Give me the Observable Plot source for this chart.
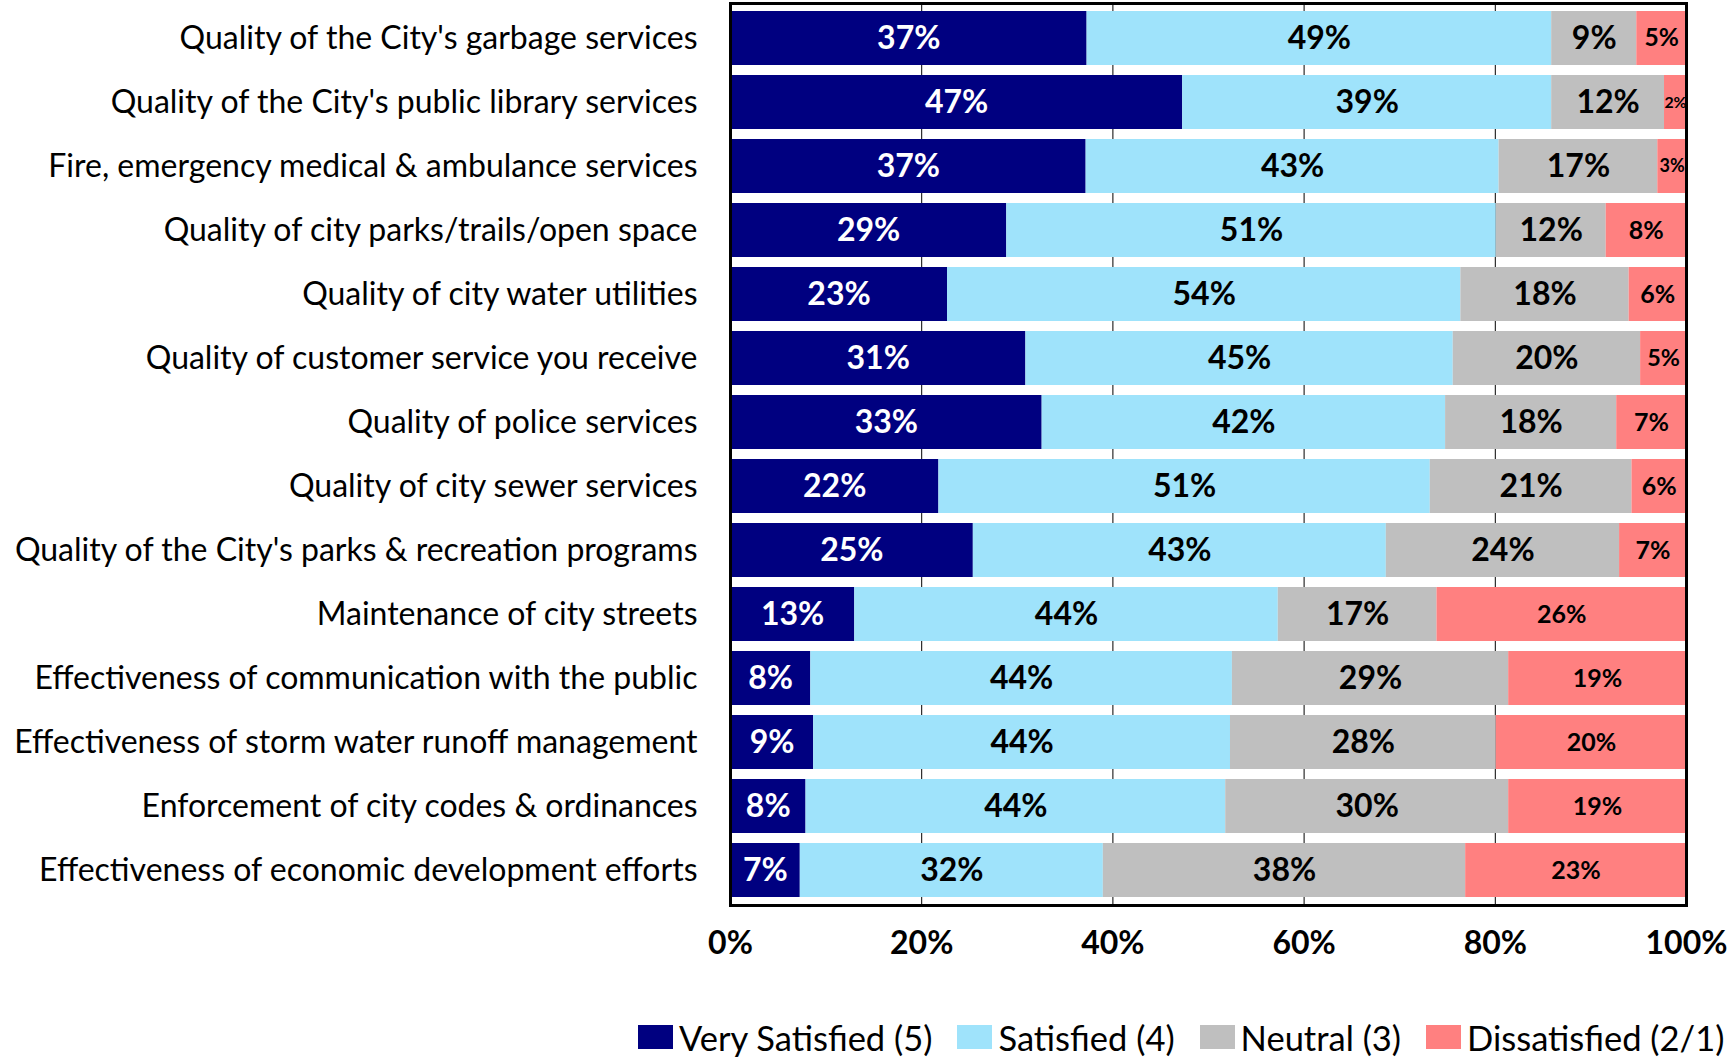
<!DOCTYPE html>
<html>
<head>
<meta charset="utf-8">
<script src="https://cdn.jsdelivr.net/npm/d3@7"></script>
<script src="https://cdn.jsdelivr.net/npm/@observablehq/plot@0.6"></script>
<style>
  html, body { margin: 0; padding: 0; background: #fff; }
  body { width: 1730px; height: 1057px; overflow: hidden; font-family: Lato, sans-serif; }
  #legend { display: flex; align-items: center; padding-left: 638px; height: 48px; margin-top: 23px; font-size: 34.5px; color: #000; white-space: nowrap; }
  .item { display: flex; align-items: center; margin-right: 25px; }
  .sw { width: 35px; height: 24px; margin-right: 6px; flex: none; }
</style>
</head>
<body>
<div id="chart"></div>
<div id="legend"></div>
<script>
const categories = [
  "Quality of the City's garbage services",
  "Quality of the City's public library services",
  "Fire, emergency medical & ambulance services",
  "Quality of city parks/trails/open space",
  "Quality of city water utilities",
  "Quality of customer service you receive",
  "Quality of police services",
  "Quality of city sewer services",
  "Quality of the City's parks & recreation programs",
  "Maintenance of city streets",
  "Effectiveness of communication with the public",
  "Effectiveness of storm water runoff management",
  "Enforcement of city codes & ordinances",
  "Effectiveness of economic development efforts"
];
const seriesNames = ["Very Satisfied (5)", "Satisfied (4)", "Neutral (3)", "Dissatisfied (2/1)"];
const verySatisfied = [37.3, 47.3, 37.2, 28.9, 22.7, 30.9, 32.6, 21.8, 25.4, 13.0, 8.4, 8.7, 7.9, 7.3];
const satisfied     = [48.6, 38.6, 43.2, 51.2, 53.7, 44.7, 42.2, 51.4, 43.2, 44.3, 44.1, 43.6, 43.9, 31.7];
const neutral       = [8.9, 11.8, 16.6, 11.5, 17.6, 19.6, 17.9, 21.1, 24.4, 16.6, 28.9, 27.8, 29.6, 37.9];
const dissatisfied  = [5.2, 2.3, 3.0, 8.4, 6.0, 4.8, 7.3, 5.7, 7.0, 26.1, 18.6, 19.9, 18.6, 23.1];
const xTicks = [0, 20, 40, 60, 80, 100];
const gridTicks = [20, 40, 60, 80];
const colors = ["#000080", "#9FE3FB", "#BFBFBF", "#FF8080"];

const seriesValues = [verySatisfied, satisfied, neutral, dissatisfied];
const rows = [];
seriesNames.forEach((s, si) => {
  categories.forEach((c, ci) => {
    rows.push({item: c, series: s, si, value: seriesValues[si][ci]});
  });
});

const stackOpts = {x: "value", y: "item", z: "series", order: seriesNames};

const chart = Plot.plot({
  width: 1730,
  height: 990,
  marginLeft: 730,
  marginRight: 44,
  marginTop: 3,
  marginBottom: 85,
  style: {fontFamily: "Lato, sans-serif", color: "#000", background: "#fff"},
  x: {domain: [0, 100]},
  y: {domain: categories, paddingInner: 0.15, paddingOuter: 0.075},
  color: {domain: seriesNames, range: colors},
  marks: [
    Plot.ruleX(gridTicks, {stroke: "#000", strokeWidth: 1}),
    Plot.barX(rows, Plot.stackX({...stackOpts, fill: "series"})),
    Plot.text(rows, Plot.stackX({
      ...stackOpts,
      text: d => Math.round(d.value) + "%",
      fill: d => d.si === 0 ? "#fff" : "#000",
      fontSize: d => d.si === 3 ? Math.min(25, 9 + 3 * d.value) : 32,
      fontWeight: "bold"
    })),
    Plot.axisY({tickSize: 0, tickPadding: 33, fontSize: 32, label: null}),
    Plot.axisX({ticks: xTicks, tickFormat: d => d + "%", tickSize: 0, tickPadding: 26, fontSize: 32, fontWeight: "bold", label: null}),
    Plot.frame({stroke: "#000", strokeWidth: 3})
  ]
});
document.getElementById("chart").appendChild(chart);

const legend = document.getElementById("legend");
seriesNames.forEach((s, i) => {
  const item = document.createElement("div");
  item.className = "item";
  const sw = document.createElement("div");
  sw.className = "sw";
  sw.style.background = colors[i];
  const t = document.createElement("span");
  t.textContent = s;
  item.appendChild(sw);
  item.appendChild(t);
  legend.appendChild(item);
});
</script>
</body>
</html>
